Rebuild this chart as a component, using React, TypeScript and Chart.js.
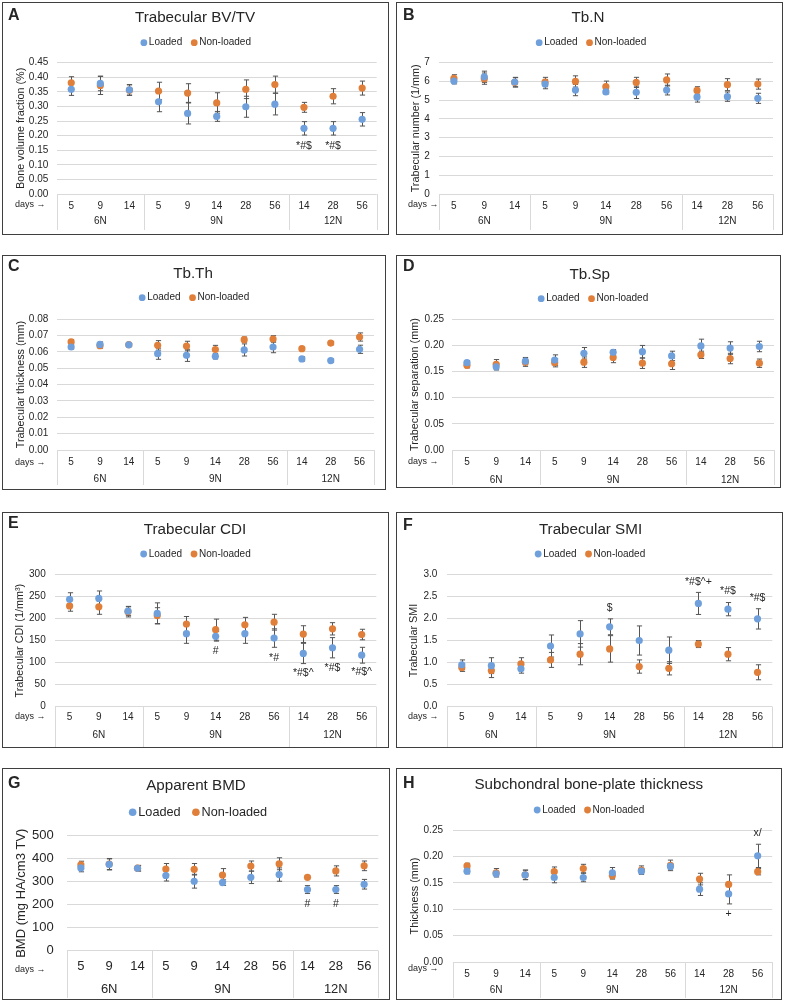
import React, { useEffect, useRef } from "react";
import { Chart, registerables } from "chart.js";

Chart.register(...registerables);

const FONT = '"Liberation Sans", Arial, Helvetica, sans-serif';
Chart.defaults.font.family = FONT;

const BLUE = "#6fa0dc";
const ORANGE = "#e07f3a";
const ERR = "#555555";
const GRID = "#d9d9d9";
const TEXT = "#262626";

// ---------------- data ----------------
const categories = ["5", "9", "14", "5", "9", "14", "28", "56", "14", "28", "56"];
const groupLabels = ["6N", "9N", "12N"];
const groupSizes = [3, 5, 3];
const seriesNames = ["Loaded", "Non-loaded"];

// A: Trabecular BV/TV
const bvtvTicks = [0, 0.05, 0.1, 0.15, 0.2, 0.25, 0.3, 0.35, 0.4, 0.45];
const bvtvLoaded = [0.359, 0.379, 0.357, 0.316, 0.276, 0.266, 0.299, 0.308, 0.225, 0.225, 0.256];
const bvtvLoadedErr = [0.021, 0.025, 0.018, 0.034, 0.036, 0.017, 0.036, 0.037, 0.023, 0.023, 0.023];
const bvtvNon = [0.381, 0.372, 0.356, 0.353, 0.346, 0.312, 0.359, 0.375, 0.297, 0.335, 0.363];
const bvtvNonErr = [0.021, 0.031, 0.018, 0.030, 0.032, 0.035, 0.032, 0.029, 0.017, 0.026, 0.024];
const bvtvMarks = [
  { index: 8, text: "*#$", value: 0.164 },
  { index: 9, text: "*#$", value: 0.164 },
];

// B: Tb.N
const tbnTicks = [0, 1, 2, 3, 4, 5, 6, 7];
const tbnLoaded = [6.02, 6.25, 5.97, 5.86, 5.54, 5.44, 5.42, 5.54, 5.17, 5.19, 5.1];
const tbnLoadedErr = [0.15, 0.3, 0.25, 0.25, 0.3, 0.1, 0.33, 0.26, 0.27, 0.25, 0.27];
const tbnNon = [6.16, 6.15, 5.95, 5.97, 6.0, 5.72, 5.95, 6.08, 5.52, 5.83, 5.86];
const tbnNonErr = [0.2, 0.3, 0.25, 0.25, 0.3, 0.3, 0.27, 0.32, 0.2, 0.32, 0.27];
const tbnMarks: Mark[] = [];

// C: Tb.Th
const tbthTicks = [0, 0.01, 0.02, 0.03, 0.04, 0.05, 0.06, 0.07, 0.08];
const tbthLoaded = [0.0629, 0.0645, 0.0642, 0.0588, 0.0578, 0.0572, 0.0611, 0.0629, 0.0556, 0.0546, 0.0615];
const tbthLoadedErr = [0.0012, 0.0015, 0.0008, 0.0034, 0.0037, 0.0016, 0.0037, 0.0035, 0.0013, 0.001, 0.0025];
const tbthNon = [0.066, 0.0637, 0.0643, 0.0639, 0.0635, 0.0613, 0.0674, 0.0678, 0.0619, 0.0653, 0.069];
const tbthNonErr = [0.0015, 0.0015, 0.0008, 0.0029, 0.0029, 0.0026, 0.0016, 0.002, 0.0008, 0.001, 0.0025];
const tbthMarks: Mark[] = [];

// D: Tb.Sp
const tbspTicks = [0, 0.05, 0.1, 0.15, 0.2, 0.25];
const tbspLoaded = [0.167, 0.159, 0.17, 0.172, 0.185, 0.187, 0.188, 0.18, 0.199, 0.195, 0.198];
const tbspLoadedErr = [0.004, 0.006, 0.007, 0.01, 0.011, 0.005, 0.012, 0.009, 0.013, 0.012, 0.01];
const tbspNon = [0.162, 0.164, 0.168, 0.167, 0.168, 0.177, 0.166, 0.165, 0.182, 0.175, 0.166];
const tbspNonErr = [0.005, 0.009, 0.008, 0.008, 0.01, 0.01, 0.01, 0.011, 0.007, 0.01, 0.008];
const tbspMarks: Mark[] = [];

// E: Trabecular CDI
const cdiTicks = [0, 50, 100, 150, 200, 250, 300];
const cdiLoaded = [244, 246, 217, 212, 166, 160, 166, 156, 121, 134, 117];
const cdiLoadedErr = [15, 17, 10, 24, 22, 11, 22, 21, 23, 23, 18];
const cdiNon = [229, 227, 216, 207, 188, 175, 186, 192, 165, 177, 164];
const cdiNonErr = [12, 17, 12, 18, 17, 24, 17, 18, 19, 14, 12];
const cdiMarks = [
  { index: 5, text: "#", value: 127 },
  { index: 7, text: "*#", value: 110 },
  { index: 8, text: "*#$^", value: 76 },
  { index: 9, text: "*#$", value: 87 },
  { index: 10, text: "*#$^", value: 78 },
];

// F: Trabecular SMI
const smiTicks = [0, 0.5, 1, 1.5, 2, 2.5, 3];
const smiLoaded = [0.95, 0.93, 0.86, 1.375, 1.65, 1.81, 1.5, 1.28, 2.34, 2.21, 1.99];
const smiLoadedErr = [0.11, 0.18, 0.1, 0.25, 0.3, 0.18, 0.33, 0.3, 0.25, 0.15, 0.23];
const smiNon = [0.89, 0.82, 0.97, 1.06, 1.19, 1.31, 0.91, 0.87, 1.42, 1.19, 0.78];
const smiNonErr = [0.09, 0.16, 0.14, 0.17, 0.24, 0.3, 0.15, 0.15, 0.08, 0.15, 0.17];
const smiMarks = [
  { index: 5, text: "$", value: 2.23 },
  { index: 8, text: "*#$^+", value: 2.83 },
  { index: 9, text: "*#$", value: 2.61 },
  { index: 10, text: "*#$", value: 2.47 },
];

// G: Apparent BMD
const bmdTicks = [0, 100, 200, 300, 400, 500];
const bmdLoaded = [360, 375, 358, 327, 302, 296, 319, 331, 266, 266, 289];
const bmdLoadedErr = [17, 24, 12, 24, 30, 12, 27, 29, 17, 17, 21];
const bmdNon = [373, 377, 359, 355, 354, 329, 368, 378, 319, 347, 369];
const bmdNonErr = [16, 24, 12, 24, 25, 28, 22, 26, 8, 22, 21];
const bmdMarks = [
  { index: 8, text: "#", value: 203 },
  { index: 9, text: "#", value: 203 },
];

// H: Subchondral bone-plate thickness
const sbpTicks = [0, 0.05, 0.1, 0.15, 0.2, 0.25];
const sbpLoaded = [0.172, 0.167, 0.165, 0.16, 0.16, 0.169, 0.172, 0.181, 0.138, 0.129, 0.201];
const sbpLoadedErr = [0.005, 0.004, 0.009, 0.01, 0.008, 0.01, 0.005, 0.005, 0.012, 0.019, 0.022];
const sbpNon = [0.182, 0.169, 0.165, 0.171, 0.177, 0.164, 0.174, 0.183, 0.157, 0.147, 0.171];
const sbpNonErr = [0.005, 0.008, 0.009, 0.009, 0.008, 0.007, 0.008, 0.01, 0.011, 0.018, 0.006];
const sbpMarks = [
  { index: 9, text: "+", value: 0.09 },
  { index: 10, text: "x/", value: 0.245 },
];

// ---------------- layout ----------------
type Mark = { index: number; text: string; value: number };
type Fonts = { tick: number; yTitle: number; cat: number; group: number; legend: number; dot: number };

type PanelSpec = {
  letter: string;
  title: string;
  yTitle: string;
  ticks: number[];
  decimals: number;
  loaded: number[];
  loadedErr: number[];
  non: number[];
  nonErr: number[];
  marks: Mark[];
  box: [number, number, number, number];
  plot: [number, number, number, number];
  letterPos: [number, number];
  titlePos: [number, number];
  legendPos: [number, number];
  yTitleX: number;
  tickPad: number;
  catY: number;
  groupY: number;
  sepBottom: number;
  daysPos: [number, number];
  fonts: Fonts;
};

const smallFonts: Fonts = { tick: 10, yTitle: 10.8, cat: 10, group: 10, legend: 10, dot: 3.4 };
const bigFonts: Fonts = { tick: 13, yTitle: 13, cat: 13, group: 13, legend: 12.7, dot: 3.8 };

const panels: PanelSpec[] = [
  {
    letter: "A", title: "Trabecular BV/TV", yTitle: "Bone volume fraction (%)", ticks: bvtvTicks, decimals: 2,
    loaded: bvtvLoaded, loadedErr: bvtvLoadedErr, non: bvtvNon, nonErr: bvtvNonErr, marks: bvtvMarks,
    box: [2, 2, 387, 233], plot: [56.7, 62.7, 376.7, 194], letterPos: [8, 16], titlePos: [195, 18],
    legendPos: [195.7, 42.7], yTitleX: 21, tickPad: 8.4, catY: 206, groupY: 221.7, sepBottom: 230,
    daysPos: [15, 205], fonts: smallFonts,
  },
  {
    letter: "B", title: "Tb.N", yTitle: "Trabecular number (1/mm)", ticks: tbnTicks, decimals: 0,
    loaded: tbnLoaded, loadedErr: tbnLoadedErr, non: tbnNon, nonErr: tbnNonErr, marks: tbnMarks,
    box: [396, 2, 387, 233], plot: [438.7, 62.7, 773, 194], letterPos: [403, 16], titlePos: [588, 18],
    legendPos: [591, 42.7], yTitleX: 416, tickPad: 9, catY: 206, groupY: 221.7, sepBottom: 230,
    daysPos: [408, 205], fonts: smallFonts,
  },
  {
    letter: "C", title: "Tb.Th", yTitle: "Trabecular thickness (mm)", ticks: tbthTicks, decimals: 2,
    loaded: tbthLoaded, loadedErr: tbthLoadedErr, non: tbthNon, nonErr: tbthNonErr, marks: tbthMarks,
    box: [2, 255, 384, 235], plot: [56.7, 319, 374, 450], letterPos: [8, 266.7], titlePos: [193, 273.8],
    legendPos: [194, 297.7], yTitleX: 21, tickPad: 8.4, catY: 462, groupY: 479.3, sepBottom: 485,
    daysPos: [15, 463], fonts: smallFonts,
  },
  {
    letter: "D", title: "Tb.Sp", yTitle: "Trabecular separation (mm)", ticks: tbspTicks, decimals: 2,
    loaded: tbspLoaded, loadedErr: tbspLoadedErr, non: tbspNon, nonErr: tbspNonErr, marks: tbspMarks,
    box: [396, 255, 385, 233], plot: [452.3, 319.3, 774, 450], letterPos: [403, 266.7], titlePos: [589.7, 274.7],
    legendPos: [593, 298.7], yTitleX: 414.7, tickPad: 8.3, catY: 462, groupY: 480, sepBottom: 485,
    daysPos: [408, 462], fonts: smallFonts,
  },
  {
    letter: "E", title: "Trabecular CDI", yTitle: "Trabecular CDI (1/mm\u00B3)", ticks: cdiTicks, decimals: 0,
    loaded: cdiLoaded, loadedErr: cdiLoadedErr, non: cdiNon, nonErr: cdiNonErr, marks: cdiMarks,
    box: [2, 512, 387, 236], plot: [55, 574.7, 376.3, 706.7], letterPos: [8, 524], titlePos: [195, 530],
    legendPos: [195.5, 554], yTitleX: 20.5, tickPad: 9.3, catY: 717.3, groupY: 735, sepBottom: 747,
    daysPos: [15, 717], fonts: smallFonts,
  },
  {
    letter: "F", title: "Trabecular SMI", yTitle: "Trabecular SMI", ticks: smiTicks, decimals: 1,
    loaded: smiLoaded, loadedErr: smiLoadedErr, non: smiNon, nonErr: smiNonErr, marks: smiMarks,
    box: [396, 512, 387, 236], plot: [447, 574.3, 772.3, 706.7], letterPos: [403, 526], titlePos: [590.5, 530],
    legendPos: [590, 554], yTitleX: 413.7, tickPad: 9.7, catY: 717.3, groupY: 735, sepBottom: 747,
    daysPos: [408, 717], fonts: smallFonts,
  },
  {
    letter: "G", title: "Apparent BMD", yTitle: "BMD (mg HA/cm3 TV)", ticks: bmdTicks, decimals: 0,
    loaded: bmdLoaded, loadedErr: bmdLoadedErr, non: bmdNon, nonErr: bmdNonErr, marks: bmdMarks,
    box: [2, 768, 388, 232], plot: [66.7, 835.7, 378.3, 950.7], letterPos: [8, 784], titlePos: [196, 785.7],
    legendPos: [198, 812.3], yTitleX: 21, tickPad: 13, catY: 966.7, groupY: 989.3, sepBottom: 998,
    daysPos: [15, 970], fonts: bigFonts,
  },
  {
    letter: "H", title: "Subchondral bone-plate thickness", yTitle: "Thickness (mm)", ticks: sbpTicks, decimals: 2,
    loaded: sbpLoaded, loadedErr: sbpLoadedErr, non: sbpNon, nonErr: sbpNonErr, marks: sbpMarks,
    box: [396, 768, 386, 232], plot: [452.5, 830, 772.2, 962], letterPos: [403, 784], titlePos: [588.8, 784.7],
    legendPos: [589, 810], yTitleX: 414.7, tickPad: 9.5, catY: 974, groupY: 990.7, sepBottom: 998,
    daysPos: [408, 969], fonts: smallFonts,
  },
];

function PanelChart({ p }: { p: PanelSpec }) {
  const ref = useRef<HTMLCanvasElement | null>(null);

  useEffect(() => {
    const canvas = ref.current;
    if (!canvas) return;
    const [bx, by, bw, bh] = p.box;
    const [pl, pt, pr, pb] = p.plot;
    const f = p.fonts;
    const yTitleLH = f.yTitle * 1.2;
    const yMin = p.ticks[0];
    const yMax = p.ticks[p.ticks.length - 1];

    const decor = {
      id: "decor" + p.letter,
      beforeDatasetsDraw(chart: any) {
        const ctx = chart.ctx;
        const ys = chart.scales.y;
        ctx.save();
        ctx.strokeStyle = ERR;
        ctx.lineWidth = 1;
        const cap = 2.6;
        [
          [p.loaded, p.loadedErr],
          [p.non, p.nonErr],
        ].forEach(([vals, errs], di) => {
          const meta = chart.getDatasetMeta(di);
          meta.data.forEach((pt: any, j: number) => {
            const x = Math.round(pt.x) + 0.5;
            const y1 = ys.getPixelForValue(vals[j] + errs[j]);
            const y2 = ys.getPixelForValue(vals[j] - errs[j]);
            ctx.beginPath();
            ctx.moveTo(x, y1);
            ctx.lineTo(x, y2);
            ctx.moveTo(x - cap, y1);
            ctx.lineTo(x + cap, y1);
            ctx.moveTo(x - cap, y2);
            ctx.lineTo(x + cap, y2);
            ctx.stroke();
          });
        });
        ctx.restore();
      },
      afterDraw(chart: any) {
        const ctx = chart.ctx;
        const xs = chart.scales.x;
        const ys = chart.scales.y;
        const area = chart.chartArea;
        ctx.save();
        ctx.fillStyle = TEXT;

        // panel letter
        ctx.font = `bold 16px ${FONT}`;
        ctx.textAlign = "left";
        ctx.textBaseline = "middle";
        ctx.fillText(p.letter, p.letterPos[0] - bx, p.letterPos[1] - by);

        // title
        ctx.font = `15.2px ${FONT}`;
        ctx.textAlign = "center";
        ctx.fillText(p.title, p.titlePos[0] - bx, p.titlePos[1] - by);

        // legend
        ctx.font = `${f.legend}px ${FONT}`;
        const r = f.dot;
        const gap1 = r + f.legend * 0.1 + 0.6;
        const gap2 = f.legend * 1.2;
        const w0 = ctx.measureText(seriesNames[0]).width;
        const w1 = ctx.measureText(seriesNames[1]).width;
        const total = r + gap1 + w0 + gap2 + gap1 + w1;
        let cx = p.legendPos[0] - bx - total / 2 + r;
        const ly = p.legendPos[1] - by;
        ctx.textAlign = "left";
        [
          [BLUE, seriesNames[0], w0],
          [ORANGE, seriesNames[1], w1],
        ].forEach(([col, name, w]: any) => {
          ctx.fillStyle = col;
          ctx.beginPath();
          ctx.arc(cx, ly, r, 0, Math.PI * 2);
          ctx.fill();
          ctx.fillStyle = TEXT;
          ctx.fillText(name, cx + gap1, ly);
          cx = cx + gap1 + w + gap2;
        });

        // days arrow label
        ctx.font = `9px ${FONT}`;
        ctx.textAlign = "left";
        ctx.fillText("days \u2192", p.daysPos[0] - bx, p.daysPos[1] - by);

        // group separators and labels
        const bounds: number[] = [];
        let acc = 0;
        const n = categories.length;
        const boundaryPx = (k: number) => {
          if (k <= 0) return area.left;
          if (k >= n) return area.right;
          return (xs.getPixelForTick(k - 1) + xs.getPixelForTick(k)) / 2;
        };
        bounds.push(boundaryPx(0));
        groupSizes.forEach((s) => {
          acc += s;
          bounds.push(boundaryPx(acc));
        });
        ctx.strokeStyle = GRID;
        ctx.lineWidth = 1;
        bounds.forEach((bxp) => {
          const x = Math.round(bxp) + 0.5;
          ctx.beginPath();
          ctx.moveTo(x, area.bottom);
          ctx.lineTo(x, p.sepBottom - by);
          ctx.stroke();
        });
        ctx.font = `${f.group}px ${FONT}`;
        ctx.textAlign = "center";
        ctx.fillStyle = TEXT;
        groupLabels.forEach((g, i) => {
          ctx.fillText(g, (bounds[i] + bounds[i + 1]) / 2, p.groupY - by);
        });

        // significance marks
        ctx.font = `10.5px ${FONT}`;
        p.marks.forEach((m) => {
          ctx.fillText(m.text, xs.getPixelForTick(m.index), ys.getPixelForValue(m.value));
        });
        ctx.restore();
      },
    };

    const chart = new Chart(canvas, {
      type: "line",
      data: {
        labels: categories,
        datasets: [
          {
            label: seriesNames[0],
            data: p.loaded,
            showLine: false,
            pointRadius: 3.6,
            pointHoverRadius: 3.6,
            pointBorderWidth: 0,
            backgroundColor: BLUE,
            borderColor: BLUE,
          },
          {
            label: seriesNames[1],
            data: p.non,
            showLine: false,
            pointRadius: 3.6,
            pointHoverRadius: 3.6,
            pointBorderWidth: 0,
            backgroundColor: ORANGE,
            borderColor: ORANGE,
          },
        ],
      },
      options: {
        animation: false,
        responsive: false,
        events: [],
        layout: {
          padding: { left: 0, top: pt - by, right: bx + bw - pr, bottom: 0 },
        },
        plugins: {
          legend: { display: false },
          title: { display: false },
          tooltip: { enabled: false },
        },
        scales: {
          x: {
            type: "category",
            offset: true,
            grid: { display: false, drawTicks: false },
            border: { display: false },
            ticks: {
              autoSkip: false,
              maxRotation: 0,
              minRotation: 0,
              color: TEXT,
              font: { size: f.cat, family: FONT },
              padding: p.catY - pb - f.cat * 0.6,
            },
            afterFit: (s: any) => {
              s.height = by + bh - pb;
            },
          },
          y: {
            min: yMin,
            max: yMax,
            grid: { color: GRID, lineWidth: 1, drawTicks: false },
            border: { display: false },
            afterBuildTicks: (s: any) => {
              s.ticks = p.ticks.map((v) => ({ value: v }));
            },
            ticks: {
              autoSkip: false,
              color: TEXT,
              font: { size: f.tick, family: FONT },
              padding: p.tickPad,
              callback: (v: any) => Number(v).toFixed(p.decimals),
            },
            title: {
              display: true,
              text: p.yTitle,
              color: TEXT,
              font: { size: f.yTitle, family: FONT },
              padding: { top: p.yTitleX - bx - yTitleLH / 2, bottom: 0 },
            },
            afterFit: (s: any) => {
              s.width = pl - bx;
            },
          },
        },
      },
      plugins: [decor],
    } as any);

    return () => chart.destroy();
  }, [p]);

  const [bx, by, bw, bh] = p.box;
  return (
    <div style={{ position: "absolute", left: bx, top: by, width: bw, height: bh }}>
      <canvas ref={ref} width={bw} height={bh} style={{ display: "block", width: bw, height: bh }} />
      <div
        style={{
          position: "absolute",
          left: 0,
          top: 0,
          width: bw,
          height: bh,
          border: "1.5px solid #3f3f3f",
          boxSizing: "border-box",
          pointerEvents: "none",
        }}
      />
    </div>
  );
}

export default function App() {
  return (
    <div
      style={{
        position: "absolute",
        left: 0,
        top: 0,
        width: 787,
        height: 1003,
        background: "#ffffff",
        overflow: "hidden",
      }}
    >
      {panels.map((p) => (
        <PanelChart key={p.letter} p={p} />
      ))}
    </div>
  );
}
